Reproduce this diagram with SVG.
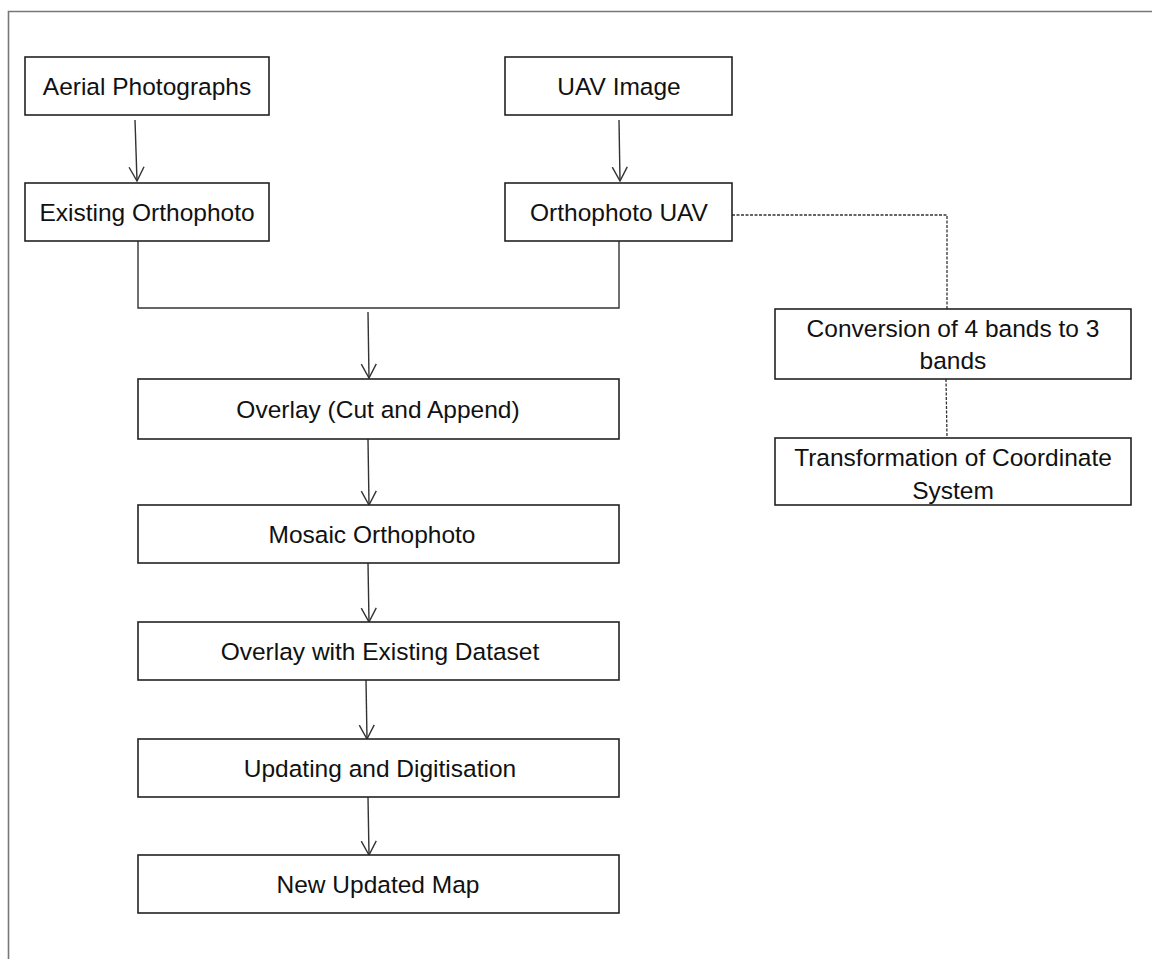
<svg xmlns="http://www.w3.org/2000/svg" width="1152" height="959" viewBox="0 0 1152 959">
<style>
.box{fill:#fff;stroke:#222;stroke-width:1.6}
.t{font-family:"Liberation Sans",Arial,sans-serif;font-size:24.5px;fill:#111;text-anchor:middle}
.ln{fill:none;stroke:#333;stroke-width:1.4}
.dash{fill:none;stroke:#333;stroke-width:1.3;stroke-dasharray:3,1.5}
</style>
<defs>
<marker id="ah" markerWidth="16" markerHeight="18" refX="14.5" refY="9" orient="auto" markerUnits="userSpaceOnUse" viewBox="0 0 16 18">
<path d="M0.5,1.5 L14.5,9 L0.5,16.5" fill="none" stroke="#333" stroke-width="1.4"/>
</marker>
</defs>
<rect width="1152" height="959" fill="#fff"/>
<path d="M8.5,965 V11.5 H1160" fill="none" stroke="#777" stroke-width="1.6"/>
<g id="connectors">
<path class="ln" d="M135,120 L137,181" marker-end="url(#ah)"/>
<path class="ln" d="M619,120 L620,181" marker-end="url(#ah)"/>
<path class="ln" d="M138,241 V308 H619 V241"/>
<path class="ln" d="M368,312 L369,378" marker-end="url(#ah)"/>
<path class="ln" d="M368,439 L369,505" marker-end="url(#ah)"/>
<path class="ln" d="M368,563 L369,622" marker-end="url(#ah)"/>
<path class="ln" d="M366,680 L367,739" marker-end="url(#ah)"/>
<path class="ln" d="M368,797 L369,855" marker-end="url(#ah)"/>
<path class="dash" d="M732,215 H947 V309"/>
<path class="dash" d="M946,379 L947,438"/>
</g>
<g id="aerial"><rect class="box" x="25" y="57" width="244" height="58"/><text class="t" x="147" y="95">Aerial Photographs</text></g>
<g id="existing"><rect class="box" x="25" y="183" width="244" height="58"/><text class="t" x="147" y="221">Existing Orthophoto</text></g>
<g id="uav"><rect class="box" x="505" y="57" width="227" height="58"/><text class="t" x="619" y="95">UAV Image</text></g>
<g id="orthouav"><rect class="box" x="505" y="183" width="227" height="58"/><text class="t" x="619" y="221">Orthophoto UAV</text></g>
<g id="conversion"><rect class="box" x="775" y="309" width="356" height="70"/><text class="t" x="953" y="337">Conversion of 4 bands to 3</text><text class="t" x="953" y="369">bands</text></g>
<g id="transformation"><rect class="box" x="775" y="438" width="356" height="67"/><text class="t" x="953" y="466">Transformation of Coordinate</text><text class="t" x="953" y="499">System</text></g>
<g id="overlay"><rect class="box" x="138" y="379" width="481" height="60"/><text class="t" x="378" y="418">Overlay (Cut and Append)</text></g>
<g id="mosaic"><rect class="box" x="138" y="505" width="481" height="58"/><text class="t" x="372" y="543">Mosaic Orthophoto</text></g>
<g id="overlaydata"><rect class="box" x="138" y="622" width="481" height="58"/><text class="t" x="380" y="660">Overlay with Existing Dataset</text></g>
<g id="updating"><rect class="box" x="138" y="739" width="481" height="58"/><text class="t" x="380" y="777">Updating and Digitisation</text></g>
<g id="newmap"><rect class="box" x="138" y="855" width="481" height="58"/><text class="t" x="378" y="893">New Updated Map</text></g>
</svg>
